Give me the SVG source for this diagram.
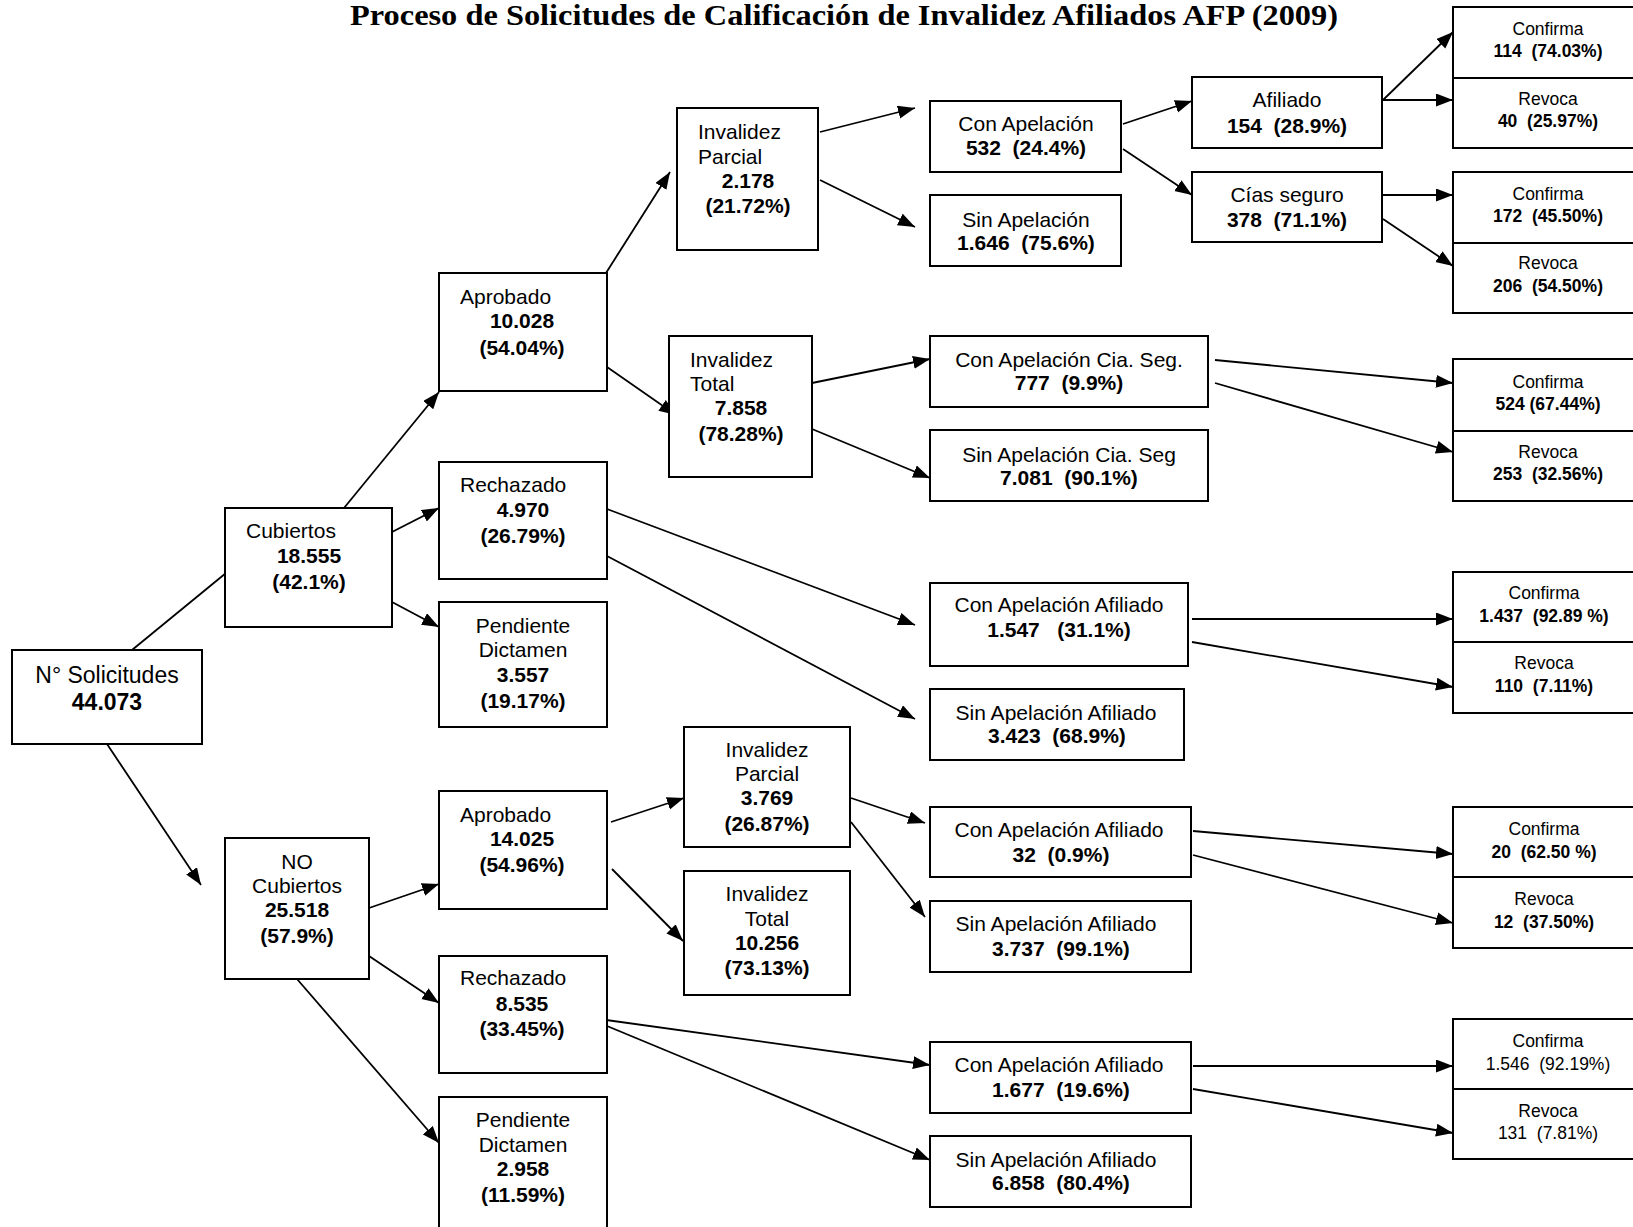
<svg xmlns="http://www.w3.org/2000/svg" width="1633" height="1227" viewBox="0 0 1633 1227">
<defs>
<style>
.box{fill:#fff;stroke:#000;stroke-width:2}
.t{font-family:"Liberation Sans",Arial,sans-serif;font-size:21px;fill:#000;white-space:pre}
.b{font-weight:bold}
.c{text-anchor:middle}
.s{font-size:17.5px}
.big{font-size:23px}
.title{font-family:"Liberation Serif","Times New Roman",serif;font-weight:bold;font-size:29px;fill:#000}
#connectors line{stroke:#000;stroke-width:1.8;fill:none}
#connectors line.a{marker-end:url(#arr)}
</style>
<marker id="arr" markerUnits="userSpaceOnUse" markerWidth="18" markerHeight="14" refX="17" refY="6.5" orient="auto">
<path d="M0,0 L17,6.5 L0,13 z" fill="#000"/>
</marker>
</defs>
<rect width="1633" height="1227" fill="#fff"/>
<text class="title" x="350" y="25" textLength="988" lengthAdjust="spacingAndGlyphs">Proceso de Solicitudes de Calificación de Invalidez Afiliados AFP (2009)</text>

<g id="connectors">
<line x1="132" y1="650" x2="226" y2="573"/>
<line class="a" x1="107" y1="744" x2="201" y2="885"/>
<line class="a" x1="344" y1="508" x2="439" y2="392"/>
<line class="a" x1="392" y1="532" x2="439" y2="508"/>
<line class="a" x1="392" y1="602" x2="439" y2="627"/>
<line class="a" x1="606" y1="273" x2="670" y2="172"/>
<line class="a" x1="607" y1="367" x2="676" y2="415"/>
<line class="a" x1="607" y1="509" x2="915" y2="625"/>
<line class="a" x1="607" y1="556" x2="915" y2="719"/>
<line class="a" x1="820" y1="132" x2="915" y2="108"/>
<line class="a" x1="820" y1="180" x2="915" y2="227"/>
<line class="a" x1="1123" y1="124" x2="1192" y2="101"/>
<line class="a" x1="1123" y1="149" x2="1192" y2="195"/>
<line class="a" x1="1383" y1="100" x2="1453" y2="32"/>
<line class="a" x1="1383" y1="100" x2="1453" y2="100"/>
<line class="a" x1="1383" y1="195" x2="1453" y2="195"/>
<line class="a" x1="1383" y1="219" x2="1453" y2="266"/>
<line class="a" x1="812" y1="383" x2="930" y2="359"/>
<line class="a" x1="812" y1="429" x2="930" y2="478"/>
<line class="a" x1="1215" y1="360" x2="1453" y2="383"/>
<line class="a" x1="1215" y1="383" x2="1453" y2="452"/>
<line class="a" x1="1192" y1="619" x2="1453" y2="619"/>
<line class="a" x1="1192" y1="642" x2="1453" y2="687"/>
<line class="a" x1="369" y1="908" x2="439" y2="884"/>
<line class="a" x1="369" y1="956" x2="439" y2="1003"/>
<line class="a" x1="297" y1="979" x2="439" y2="1143"/>
<line class="a" x1="611" y1="822" x2="684" y2="798"/>
<line class="a" x1="612" y1="869" x2="683" y2="941"/>
<line class="a" x1="851" y1="798" x2="925" y2="823"/>
<line class="a" x1="851" y1="822" x2="925" y2="917"/>
<line class="a" x1="1193" y1="831" x2="1453" y2="854"/>
<line class="a" x1="1193" y1="855" x2="1453" y2="923"/>
<line class="a" x1="599" y1="1019" x2="930" y2="1065"/>
<line class="a" x1="607" y1="1026" x2="930" y2="1160"/>
<line class="a" x1="1193" y1="1066" x2="1453" y2="1066"/>
<line class="a" x1="1193" y1="1089" x2="1453" y2="1133"/>
</g>

<g id="n-solicitudes"><rect class="box" x="12" y="650" width="190" height="94"/>
<text class="t big c" x="107" y="683">N° Solicitudes</text><text class="t big b c" x="107" y="710">44.073</text></g>

<g id="n-cubiertos"><rect class="box" x="225" y="508" width="167" height="119"/>
<text class="t" x="246" y="538">Cubiertos</text><text class="t b c" x="309" y="563">18.555</text><text class="t b c" x="309" y="589">(42.1%)</text></g>

<g id="n-nocubiertos"><rect class="box" x="225" y="838" width="144" height="141"/>
<text class="t c" x="297" y="869">NO</text><text class="t c" x="297" y="893">Cubiertos</text><text class="t b c" x="297" y="917">25.518</text><text class="t b c" x="297" y="943">(57.9%)</text></g>

<g id="n-aprobado1"><rect class="box" x="439" y="273" width="168" height="118"/>
<text class="t" x="460" y="304">Aprobado</text><text class="t b c" x="522" y="328">10.028</text><text class="t b c" x="522" y="355">(54.04%)</text></g>

<g id="n-rechazado1"><rect class="box" x="439" y="462" width="168" height="117"/>
<text class="t" x="460" y="492">Rechazado</text><text class="t b c" x="523" y="517">4.970</text><text class="t b c" x="523" y="543">(26.79%)</text></g>

<g id="n-pendiente1"><rect class="box" x="439" y="602" width="168" height="125"/>
<text class="t c" x="523" y="633">Pendiente</text><text class="t c" x="523" y="657">Dictamen</text><text class="t b c" x="523" y="682">3.557</text><text class="t b c" x="523" y="708">(19.17%)</text></g>

<g id="n-aprobado2"><rect class="box" x="439" y="791" width="168" height="118"/>
<text class="t" x="460" y="822">Aprobado</text><text class="t b c" x="522" y="846">14.025</text><text class="t b c" x="522" y="872">(54.96%)</text></g>

<g id="n-rechazado2"><rect class="box" x="439" y="956" width="168" height="117"/>
<text class="t" x="460" y="985">Rechazado</text><text class="t b c" x="522" y="1011">8.535</text><text class="t b c" x="522" y="1036">(33.45%)</text></g>

<g id="n-pendiente2"><rect class="box" x="439" y="1097" width="168" height="150"/>
<text class="t c" x="523" y="1127">Pendiente</text><text class="t c" x="523" y="1152">Dictamen</text><text class="t b c" x="523" y="1176">2.958</text><text class="t b c" x="523" y="1202">(11.59%)</text></g>

<g id="n-invparcial1"><rect class="box" x="677" y="108" width="141" height="142"/>
<text class="t" x="698" y="139">Invalidez</text><text class="t" x="698" y="164">Parcial</text><text class="t b c" x="748" y="188">2.178</text><text class="t b c" x="748" y="213">(21.72%)</text></g>

<g id="n-invtotal1"><rect class="box" x="669" y="336" width="143" height="141"/>
<text class="t" x="690" y="367">Invalidez</text><text class="t" x="690" y="391">Total</text><text class="t b c" x="741" y="415">7.858</text><text class="t b c" x="741" y="441">(78.28%)</text></g>

<g id="n-invparcial2"><rect class="box" x="684" y="727" width="166" height="120"/>
<text class="t c" x="767" y="757">Invalidez</text><text class="t c" x="767" y="781">Parcial</text><text class="t b c" x="767" y="805">3.769</text><text class="t b c" x="767" y="831">(26.87%)</text></g>

<g id="n-invtotal2"><rect class="box" x="684" y="871" width="166" height="124"/>
<text class="t c" x="767" y="901">Invalidez</text><text class="t c" x="767" y="926">Total</text><text class="t b c" x="767" y="950">10.256</text><text class="t b c" x="767" y="975">(73.13%)</text></g>

<g id="n-conapelacion"><rect class="box" x="930" y="101" width="191" height="71"/>
<text class="t c" x="1026" y="131">Con Apelación</text><text class="t b c" x="1026" y="155">532  (24.4%)</text></g>

<g id="n-sinapelacion"><rect class="box" x="930" y="195" width="191" height="71"/>
<text class="t c" x="1026" y="227">Sin Apelación</text><text class="t b c" x="1026" y="250">1.646  (75.6%)</text></g>

<g id="n-afiliado"><rect class="box" x="1192" y="77" width="190" height="71"/>
<text class="t c" x="1287" y="107">Afiliado</text><text class="t b c" x="1287" y="133">154  (28.9%)</text></g>

<g id="n-ciasseguro"><rect class="box" x="1192" y="172" width="190" height="70"/>
<text class="t c" x="1287" y="202">Cías seguro</text><text class="t b c" x="1287" y="227">378  (71.1%)</text></g>

<g id="n-conapelcia"><rect class="box" x="930" y="336" width="278" height="71"/>
<text class="t c" x="1069" y="367">Con Apelación Cia. Seg.</text><text class="t b c" x="1069" y="390">777  (9.9%)</text></g>

<g id="n-sinapelcia"><rect class="box" x="930" y="430" width="278" height="71"/>
<text class="t c" x="1069" y="462">Sin Apelación Cia. Seg</text><text class="t b c" x="1069" y="485">7.081  (90.1%)</text></g>

<g id="n-conapelafil1"><rect class="box" x="930" y="583" width="258" height="83"/>
<text class="t c" x="1059" y="612">Con Apelación Afiliado</text><text class="t b c" x="1059" y="637">1.547   (31.1%)</text></g>

<g id="n-sinapelafil1"><rect class="box" x="930" y="689" width="254" height="71"/>
<text class="t c" x="1056" y="720">Sin Apelación Afiliado</text><text class="t b c" x="1057" y="743">3.423  (68.9%)</text></g>

<g id="n-conapelafil2"><rect class="box" x="930" y="807" width="261" height="70"/>
<text class="t c" x="1059" y="837">Con Apelación Afiliado</text><text class="t b c" x="1061" y="862">32  (0.9%)</text></g>

<g id="n-sinapelafil2"><rect class="box" x="930" y="901" width="261" height="71"/>
<text class="t c" x="1056" y="931">Sin Apelación Afiliado</text><text class="t b c" x="1061" y="956">3.737  (99.1%)</text></g>

<g id="n-conapelafil3"><rect class="box" x="930" y="1042" width="261" height="71"/>
<text class="t c" x="1059" y="1072">Con Apelación Afiliado</text><text class="t b c" x="1061" y="1097">1.677  (19.6%)</text></g>

<g id="n-sinapelafil3"><rect class="box" x="930" y="1136" width="261" height="71"/>
<text class="t c" x="1056" y="1167">Sin Apelación Afiliado</text><text class="t b c" x="1061" y="1190">6.858  (80.4%)</text></g>

<g id="n-confirma1"><rect class="box" x="1453" y="7" width="196" height="71"/>
<text class="t s c" x="1548" y="35">Confirma</text><text class="t s b c" x="1548" y="57">114  (74.03%)</text></g>
<g id="n-revoca1"><rect class="box" x="1453" y="78" width="196" height="70"/>
<text class="t s c" x="1548" y="105">Revoca</text><text class="t s b c" x="1548" y="127">40  (25.97%)</text></g>

<g id="n-confirma2"><rect class="box" x="1453" y="172" width="196" height="71"/>
<text class="t s c" x="1548" y="200">Confirma</text><text class="t s b c" x="1548" y="222">172  (45.50%)</text></g>
<g id="n-revoca2"><rect class="box" x="1453" y="243" width="196" height="70"/>
<text class="t s c" x="1548" y="269">Revoca</text><text class="t s b c" x="1548" y="292">206  (54.50%)</text></g>

<g id="n-confirma3"><rect class="box" x="1453" y="359" width="196" height="72"/>
<text class="t s c" x="1548" y="388">Confirma</text><text class="t s b c" x="1548" y="410">524 (67.44%)</text></g>
<g id="n-revoca3"><rect class="box" x="1453" y="431" width="196" height="70"/>
<text class="t s c" x="1548" y="458">Revoca</text><text class="t s b c" x="1548" y="480">253  (32.56%)</text></g>

<g id="n-confirma4"><rect class="box" x="1453" y="572" width="196" height="70"/>
<text class="t s c" x="1544" y="599">Confirma</text><text class="t s b c" x="1544" y="622">1.437  (92.89 %)</text></g>
<g id="n-revoca4"><rect class="box" x="1453" y="642" width="196" height="71"/>
<text class="t s c" x="1544" y="669">Revoca</text><text class="t s b c" x="1544" y="692">110  (7.11%)</text></g>

<g id="n-confirma5"><rect class="box" x="1453" y="807" width="196" height="70"/>
<text class="t s c" x="1544" y="835">Confirma</text><text class="t s b c" x="1544" y="858">20  (62.50 %)</text></g>
<g id="n-revoca5"><rect class="box" x="1453" y="877" width="196" height="71"/>
<text class="t s c" x="1544" y="905">Revoca</text><text class="t s b c" x="1544" y="928">12  (37.50%)</text></g>

<g id="n-confirma6"><rect class="box" x="1453" y="1019" width="196" height="70"/>
<text class="t s c" x="1548" y="1047">Confirma</text><text class="t s c" x="1548" y="1070">1.546  (92.19%)</text></g>
<g id="n-revoca6"><rect class="box" x="1453" y="1089" width="196" height="70"/>
<text class="t s c" x="1548" y="1117">Revoca</text><text class="t s c" x="1548" y="1139">131  (7.81%)</text></g>
</svg>
